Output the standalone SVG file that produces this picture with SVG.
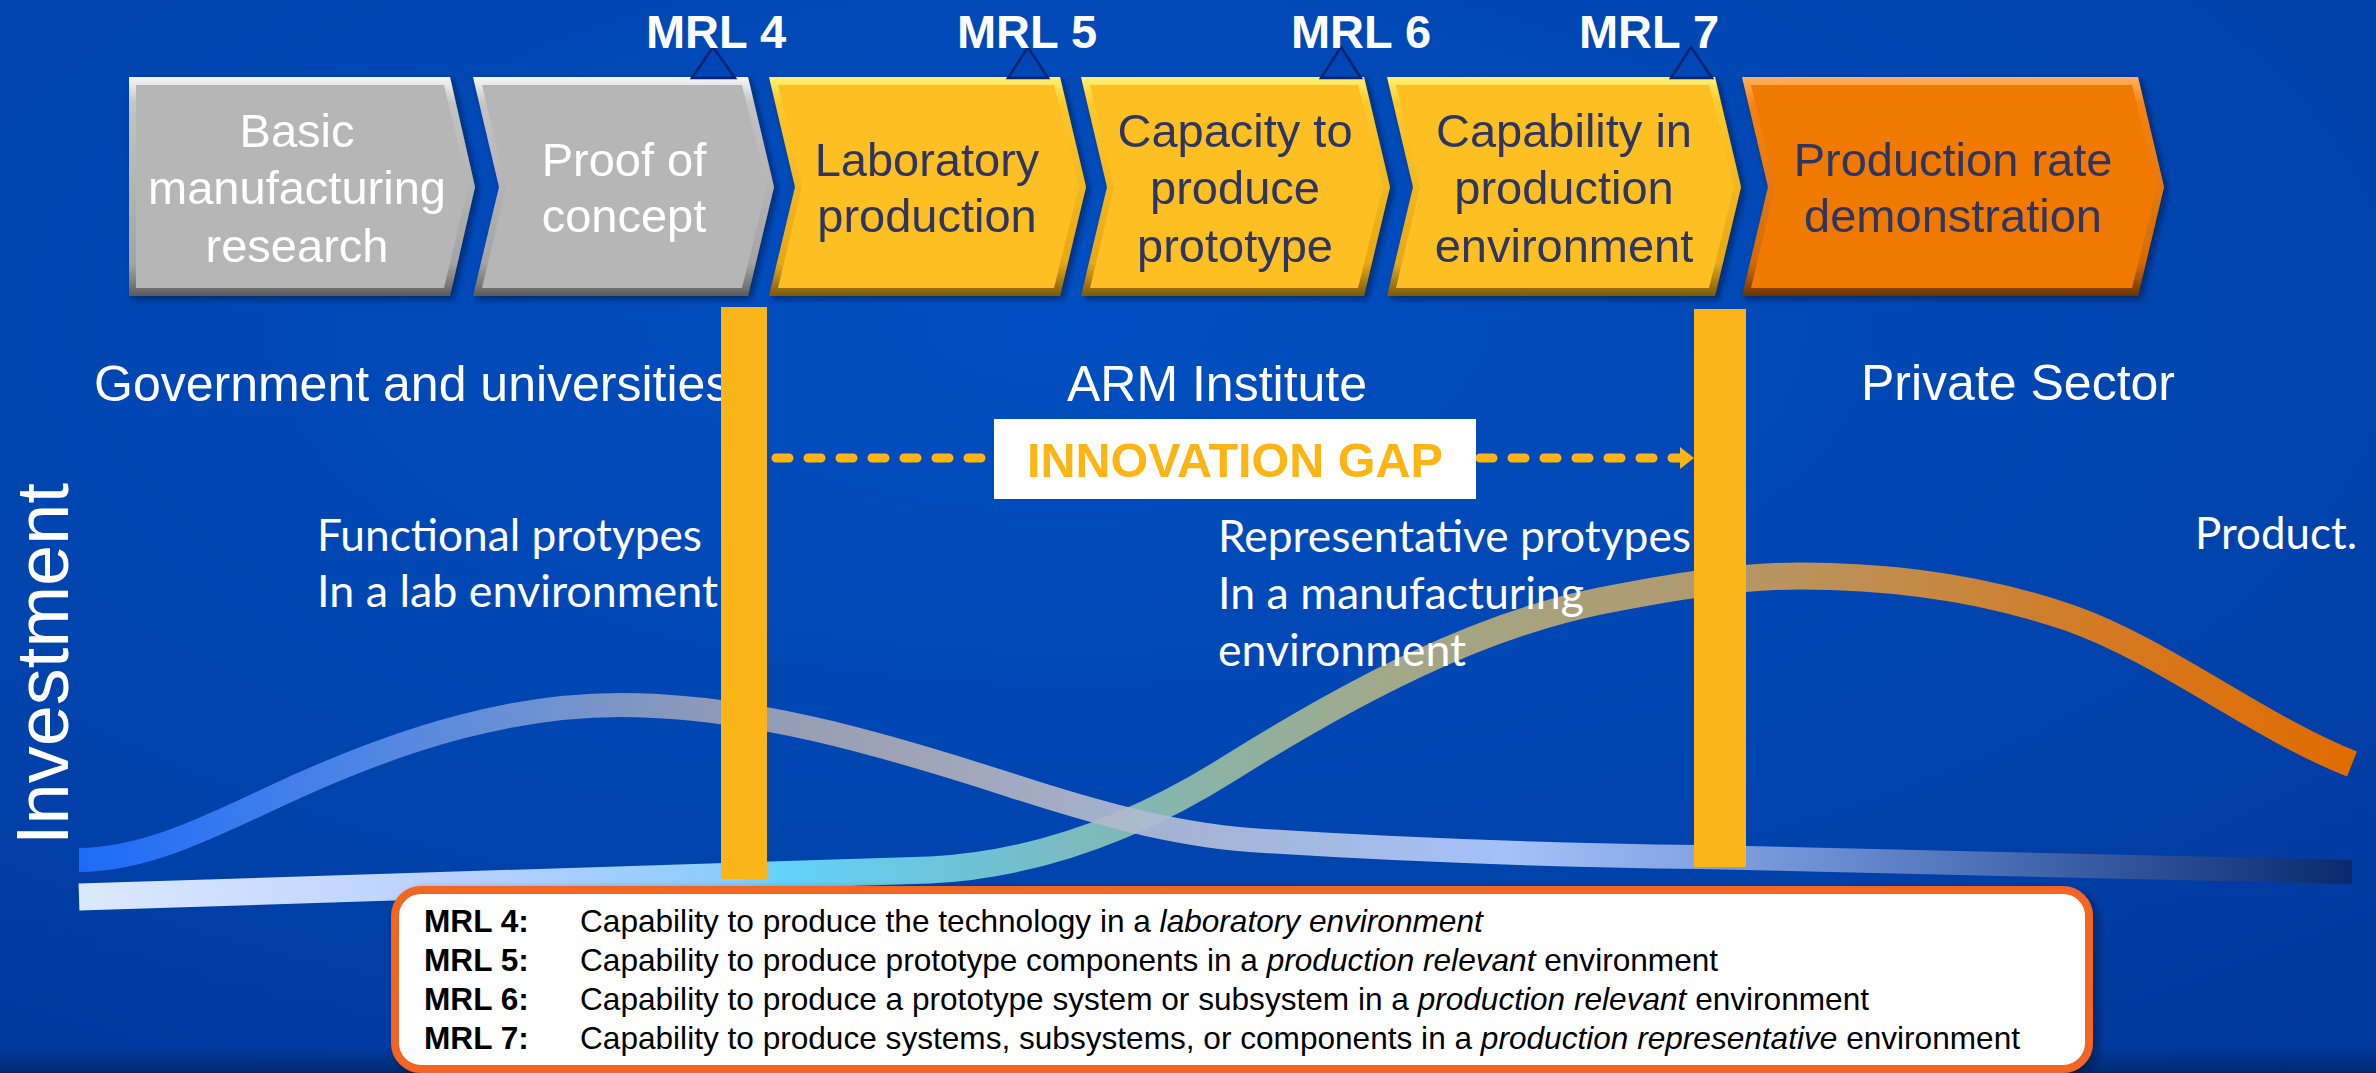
<svg xmlns="http://www.w3.org/2000/svg" width="2376" height="1073" viewBox="0 0 2376 1073">
<defs>
  <radialGradient id="bg" cx="0.45" cy="0.3" r="0.85">
    <stop offset="0" stop-color="#004FC2"/>
    <stop offset="0.6" stop-color="#0044AE"/>
    <stop offset="1" stop-color="#00389C"/>
  </radialGradient>
  <linearGradient id="bottomFade" x1="0" y1="0" x2="0" y2="1">
    <stop offset="0" stop-color="#002868" stop-opacity="0"/>
    <stop offset="1" stop-color="#002868" stop-opacity="0.9"/>
  </linearGradient>
  <linearGradient id="bevGray" x1="0" y1="0" x2="0" y2="1">
    <stop offset="0" stop-color="#F6F6F6"/>
    <stop offset="0.05" stop-color="#E2E2E2"/>
    <stop offset="0.12" stop-color="#C4C4C4"/>
    <stop offset="0.85" stop-color="#A4A4A4"/>
    <stop offset="0.95" stop-color="#787878"/>
    <stop offset="1" stop-color="#5A5A5A"/>
  </linearGradient>
  <linearGradient id="bevYellow" x1="0" y1="0" x2="0" y2="1">
    <stop offset="0" stop-color="#FFF27A"/>
    <stop offset="0.05" stop-color="#FFE050"/>
    <stop offset="0.12" stop-color="#FFC82A"/>
    <stop offset="0.85" stop-color="#E6A814"/>
    <stop offset="0.95" stop-color="#A07414"/>
    <stop offset="1" stop-color="#7A5A0A"/>
  </linearGradient>
  <linearGradient id="bevOrange" x1="0" y1="0" x2="0" y2="1">
    <stop offset="0" stop-color="#FFB060"/>
    <stop offset="0.05" stop-color="#FFA040"/>
    <stop offset="0.12" stop-color="#F88410"/>
    <stop offset="0.85" stop-color="#D46C02"/>
    <stop offset="0.95" stop-color="#8E4800"/>
    <stop offset="1" stop-color="#6A3400"/>
  </linearGradient>
  <linearGradient id="curveA" gradientUnits="userSpaceOnUse" x1="79" y1="0" x2="2352" y2="0">
    <stop offset="0" stop-color="#1E6EFF"/>
    <stop offset="0.1" stop-color="#4A85EE"/>
    <stop offset="0.19" stop-color="#7096D8"/>
    <stop offset="0.28" stop-color="#99A0B8"/>
    <stop offset="0.36" stop-color="#A9AAB4"/>
    <stop offset="0.45" stop-color="#B0B8CC"/>
    <stop offset="0.63" stop-color="#B0CBFF"/>
    <stop offset="0.76" stop-color="#7898D8"/>
    <stop offset="0.89" stop-color="#3A5AA0"/>
    <stop offset="1" stop-color="#0A2868"/>
  </linearGradient>
  <linearGradient id="curveB" gradientUnits="userSpaceOnUse" x1="79" y1="0" x2="2352" y2="0">
    <stop offset="0" stop-color="#DCE8FC"/>
    <stop offset="0.17" stop-color="#B8D0FF"/>
    <stop offset="0.29" stop-color="#8ACCFF"/>
    <stop offset="0.31" stop-color="#62D2FA"/>
    <stop offset="0.4" stop-color="#70C0D2"/>
    <stop offset="0.49" stop-color="#88B4A8"/>
    <stop offset="0.58" stop-color="#A2A888"/>
    <stop offset="0.71" stop-color="#B09A70"/>
    <stop offset="0.8" stop-color="#C28C4A"/>
    <stop offset="0.89" stop-color="#D47A22"/>
    <stop offset="1" stop-color="#E06C00"/>
  </linearGradient>
  <filter id="chevShadow" x="-5%" y="-5%" width="115%" height="120%">
    <feDropShadow dx="3" dy="3" stdDeviation="3" flood-color="#001030" flood-opacity="0.6"/>
  </filter>
  <filter id="boxShadow" x="-5%" y="-10%" width="110%" height="130%">
    <feDropShadow dx="4" dy="4" stdDeviation="4" flood-color="#001030" flood-opacity="0.6"/>
  </filter>
  <marker id="arrowHead" markerUnits="userSpaceOnUse" markerWidth="16" markerHeight="24" refX="14" refY="12" orient="auto">
    <path d="M0,1 L14,12 L0,23 Z" fill="#FDB515"/>
  </marker>
</defs>
<style>
  .chev-text { font-family: "Liberation Sans", Arial, sans-serif; font-size: 47px; text-anchor: middle; }
  .on-gray { fill: #FFFFFF; }
  .on-color { fill: #2F3561; }
  .face-gray { fill: #B6B6B6; }
  .face-yellow { fill: #FEBF20; }
  .face-orange { fill: #F07A06; }
  .mrl { font-family: "Liberation Sans", Arial, sans-serif; font-weight: bold; font-size: 47px; fill: #FFFFFF; text-anchor: middle; }
  .tri { fill: #0046B4; stroke: #0A2470; stroke-width: 2.5; stroke-linejoin: miter; }
  .group { font-family: "Liberation Sans", Arial, sans-serif; font-size: 50px; fill: #FFFFFF; }
  .desc { font-family: Lato, "Open Sans", sans-serif; font-size: 44px; fill: #FFFFFF; }
  .bar { fill: #FBB51A; }
  .leg { font-family: "Liberation Sans", Arial, sans-serif; font-size: 31.6px; fill: #000000; }
  .lb { font-weight: bold; }
</style>

<rect x="0" y="0" width="2376" height="1073" fill="url(#bg)"/>
<rect x="0" y="1048" width="2376" height="25" fill="url(#bottomFade)"/>

<!-- Chevrons -->
<g id="chevron-basic" filter="url(#chevShadow)">
  <polygon points="129,77 450,77 475,187 450,296 129,296" fill="url(#bevGray)"/>
  <polygon class="face-gray" points="136,85 444,85 468,187 444,288 136,288"/>
  <text class="chev-text on-gray"><tspan x="297" y="147">Basic</tspan><tspan x="297" y="204">manufacturing</tspan><tspan x="297" y="262">research</tspan></text>
</g>
<g id="chevron-proof" filter="url(#chevShadow)">
  <polygon points="473,77 748,77 774,187 748,296 473,296 499,187" fill="url(#bevGray)"/>
  <polygon class="face-gray" points="482,85 742,85 767,187 742,288 482,288 506,187"/>
  <text class="chev-text on-gray"><tspan x="624" y="176">Proof of</tspan><tspan x="624" y="232">concept</tspan></text>
</g>
<g id="chevron-lab" filter="url(#chevShadow)">
  <polygon points="769,77 1060,77 1086,187 1060,296 769,296 795,187" fill="url(#bevYellow)"/>
  <polygon class="face-yellow" points="778,85 1054,85 1079,187 1054,288 778,288 802,187"/>
  <text class="chev-text on-color"><tspan x="927" y="176">Laboratory</tspan><tspan x="927" y="232">production</tspan></text>
</g>
<g id="chevron-capacity" filter="url(#chevShadow)">
  <polygon points="1081,77 1364,77 1390,187 1364,296 1081,296 1107,187" fill="url(#bevYellow)"/>
  <polygon class="face-yellow" points="1090,85 1358,85 1383,187 1358,288 1090,288 1114,187"/>
  <text class="chev-text on-color"><tspan x="1235" y="147">Capacity to</tspan><tspan x="1235" y="204">produce</tspan><tspan x="1235" y="262">prototype</tspan></text>
</g>
<g id="chevron-capability" filter="url(#chevShadow)">
  <polygon points="1387,77 1715,77 1741,187 1715,296 1387,296 1413,187" fill="url(#bevYellow)"/>
  <polygon class="face-yellow" points="1396,85 1709,85 1734,187 1709,288 1396,288 1420,187"/>
  <text class="chev-text on-color"><tspan x="1564" y="147">Capability in</tspan><tspan x="1564" y="204">production</tspan><tspan x="1564" y="262">environment</tspan></text>
</g>
<g id="chevron-rate" filter="url(#chevShadow)">
  <polygon points="1742,77 2138,77 2164,187 2138,296 1742,296 1768,187" fill="url(#bevOrange)"/>
  <polygon class="face-orange" points="1751,85 2132,85 2157,187 2132,288 1751,288 1775,187"/>
  <text class="chev-text on-color"><tspan x="1953" y="176">Production rate</tspan><tspan x="1953" y="232">demonstration</tspan></text>
</g>

<!-- MRL markers -->
<g id="mrl-4">
  <polygon class="tri" points="713,47 692,78 735,78"/>
  <text class="mrl" x="716" y="48">MRL 4</text>
</g>
<g id="mrl-5">
  <polygon class="tri" points="1028,47 1008,78 1048,78"/>
  <text class="mrl" x="1027" y="48">MRL 5</text>
</g>
<g id="mrl-6">
  <polygon class="tri" points="1341,47 1321,78 1361,78"/>
  <text class="mrl" x="1361" y="48">MRL 6</text>
</g>
<g id="mrl-7">
  <polygon class="tri" points="1691,47 1671,78 1712,78"/>
  <text class="mrl" x="1649" y="48">MRL 7</text>
</g>

<!-- Investment curves -->
<g id="curves" fill="none">
  <path d="M79,897 C400,888 700,878 930,870 C1030,865 1130,831 1230,768 C1353,691 1477,626 1600,601 C1667,588 1733,576 1800,576 C1890,576 1980,587 2070,618 C2164,651 2258,727 2352,764" stroke="url(#curveB)" stroke-width="27"/>
  <path d="M79,860 C153,860 226,818 300,785 C407,737 513,705 620,705 C750,705 880,743 1010,785 C1090,811 1170,834 1250,840 C1400,850 1550,855 1700,857 L2352,872" stroke="url(#curveA)" stroke-width="24" opacity="0.93"/>
</g>

<!-- Labels -->
<g id="axis-label">
  <text transform="translate(68,845) rotate(-90)" font-family="Liberation Sans, Arial, sans-serif" font-size="74" fill="#FFFFFF">Investment</text>
</g>
<g id="sector-government"><text class="group" x="94" y="401">Government and universities</text></g>
<g id="sector-arm"><text class="group" x="1217" y="401" text-anchor="middle">ARM Institute</text></g>
<g id="sector-private"><text class="group" x="2018" y="400" text-anchor="middle">Private Sector</text></g>

<g id="desc-functional">
  <text class="desc" x="317" y="551" textLength="385" lengthAdjust="spacingAndGlyphs">Functional protypes</text>
  <text class="desc" x="317" y="607" textLength="401" lengthAdjust="spacingAndGlyphs">In a lab environment</text>
</g>
<g id="desc-representative">
  <text class="desc" x="1218" y="552" textLength="473" lengthAdjust="spacingAndGlyphs">Representative protypes</text>
  <text class="desc" x="1218" y="609" textLength="366" lengthAdjust="spacingAndGlyphs">In a manufacturing</text>
  <text class="desc" x="1218" y="666" textLength="248" lengthAdjust="spacingAndGlyphs">environment</text>
</g>
<g id="desc-product">
  <text class="desc" x="2195" y="549" textLength="162" lengthAdjust="spacingAndGlyphs">Product.</text>
</g>

<!-- Gate bars -->
<g id="gate-mrl4"><rect class="bar" x="721" y="307" width="46" height="572"/></g>
<g id="gate-mrl7"><rect class="bar" x="1694" y="309" width="52" height="558"/></g>

<!-- Connectors -->
<g id="connectors">
  <line x1="776" y1="458" x2="1694" y2="458" stroke="#FDB515" stroke-width="9" stroke-linecap="round" stroke-dasharray="13 19" marker-end="url(#arrowHead)"/>
</g>

<g id="innovation-gap">
  <rect x="994" y="419" width="482" height="80" fill="#FFFFFF"/>
  <text x="1235" y="477" text-anchor="middle" font-family="Liberation Sans, Arial, sans-serif" font-weight="bold" font-size="48.5" fill="#FDB515">INNOVATION GAP</text>
</g>

<!-- Legend -->
<g id="legend">
  <rect x="395" y="890" width="1694" height="179" rx="26" ry="26" fill="#FFFFFF" stroke="#F26522" stroke-width="8" filter="url(#boxShadow)"/>
  <text class="leg" y="932"><tspan class="lb" x="424">MRL 4:</tspan><tspan x="580">Capability to produce the technology in a <tspan font-style="italic">laboratory environment</tspan></tspan></text>
  <text class="leg" y="971"><tspan class="lb" x="424">MRL 5:</tspan><tspan x="580">Capability to produce prototype components in a <tspan font-style="italic">production relevant</tspan> environment</tspan></text>
  <text class="leg" y="1010"><tspan class="lb" x="424">MRL 6:</tspan><tspan x="580">Capability to produce a prototype system or subsystem in a <tspan font-style="italic">production relevant</tspan> environment</tspan></text>
  <text class="leg" y="1049"><tspan class="lb" x="424">MRL 7:</tspan><tspan x="580">Capability to produce systems, subsystems, or components in a <tspan font-style="italic">production representative</tspan> environment</tspan></text>
</g>
</svg>
